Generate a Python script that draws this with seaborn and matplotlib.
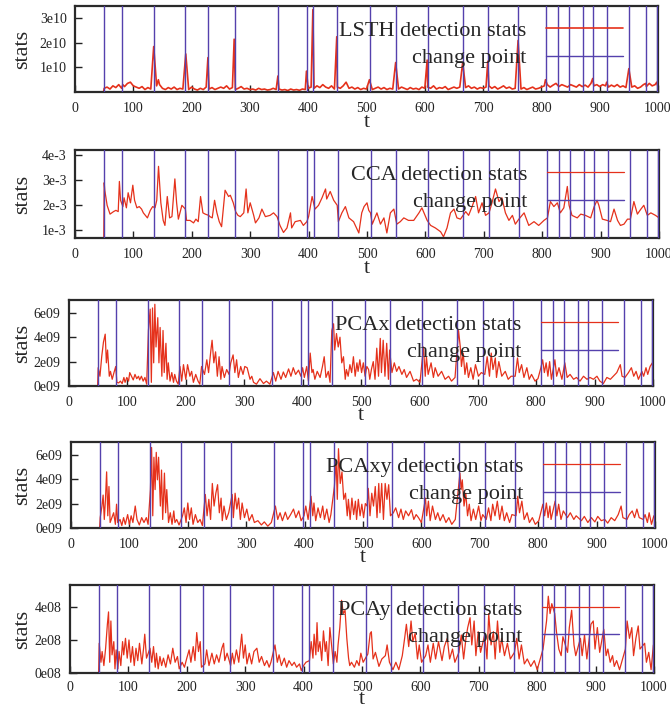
import numpy as np
import pandas as pd
import matplotlib
matplotlib.use("Agg")
import matplotlib.pyplot as plt
import seaborn as sns

sns.set_style("ticks")
plt.rcParams["font.family"] = ["Liberation Serif", "DejaVu Serif"]

# ---------------- data ----------------
change_points = [50, 81, 135, 189, 228, 274, 348, 398, 409, 450, 506, 550, 605,
                 665, 709, 760, 808, 828, 848, 872, 888, 912, 950, 979, 998]

x_ticks = [0, 100, 200, 300, 400, 500, 600, 700, 800, 900, 1000]
x_tick_labels = ["0", "100", "200", "300", "400", "500", "600", "700", "800", "900", "1000"]

# LSTH (units of 1e10): baseline every 5 steps from t=50, plus spikes
lsth_base_t = list(range(50, 1001, 5))
lsth_base_v = [
    0.15, 0.2, 0.12, 0.25, 0.18, 0.3, 0.15, 0.22, 0.35, 0.4, 0.25,
    0.2, 0.15, 0.22, 0.1, 0.18, 0.12,
    0.2, 0.25, 0.3, 0.15, 0.1, 0.18, 0.12, 0.2, 0.1, 0.15, 0.12,
    0.15, 0.1, 0.2, 0.12, 0.08, 0.15, 0.1, 0.2, 0.12, 0.18, 0.1, 0.15,
    0.2, 0.15, 0.25, 0.12, 0.18, 0.1, 0.15, 0.22, 0.12, 0.15, 0.1,
    0.12, 0.08, 0.15, 0.1, 0.12, 0.08, 0.1, 0.15, 0.1, 0.12,
    0.08, 0.1, 0.06, 0.12, 0.08, 0.1, 0.07, 0.12, 0.1, 0.15,
    0.2, 0.15, 0.25, 0.18, 0.3, 0.2, 0.15, 0.25, 0.12, 0.2,
    0.15, 0.25, 0.3, 0.15, 0.2, 0.12, 0.18, 0.1, 0.15, 0.12,
    0.18, 0.1, 0.15, 0.2, 0.12, 0.18, 0.1, 0.15, 0.12, 0.18,
    0.12, 0.2, 0.15, 0.1, 0.18, 0.12, 0.15, 0.1, 0.2, 0.15,
    0.2, 0.15, 0.25, 0.12, 0.18, 0.15, 0.22, 0.1, 0.15, 0.2,
    0.15, 0.2, 0.12, 0.18, 0.25, 0.15, 0.2, 0.12, 0.18, 0.15,
    0.2, 0.25, 0.15, 0.22, 0.12, 0.18, 0.25, 0.15, 0.2, 0.12,
    0.15, 0.2, 0.12, 0.18, 0.1, 0.15, 0.2, 0.12, 0.15, 0.2,
    0.25, 0.3, 0.2, 0.28, 0.35, 0.22, 0.3, 0.25, 0.2, 0.3,
    0.25, 0.2, 0.3, 0.22, 0.28, 0.2, 0.35, 0.25, 0.3, 0.22,
    0.3, 0.25, 0.2, 0.28, 0.22, 0.3, 0.2, 0.25, 0.18, 0.22,
    0.2, 0.25, 0.15, 0.2, 0.3, 0.22, 0.35, 0.25, 0.3, 0.2,
]
lsth_spikes = [(82, 0.3), (135, 1.85), (143, 0.5), (190, 1.55), (228, 1.4), (273, 2.15),
               (348, 0.65), (397, 0.85), (408, 3.35), (449, 2.25), (465, 0.4), (505, 0.5),
               (550, 1.2), (604, 1.3), (665, 1.2), (708, 1.25), (760, 2.1), (807, 0.5),
               (888, 0.55), (912, 0.4), (950, 0.95), (979, 0.35), (998, 0.4)]
lsth_start = [(0, 0.0), (49, 0.0)]

# CCA (units of 1e-3)
cca_points = [
    (0, 0), (49, 0), (50, 2.9), (51, 2.6), (55, 2.0), (60, 1.65), (66, 1.75), (70, 1.8),
    (74, 1.75), (76, 2.95), (78, 2.2), (82, 1.95), (84, 2.3), (88, 1.9), (91, 2.5),
    (95, 2.1), (99, 2.8), (102, 2.2), (106, 1.9), (110, 1.95), (114, 1.85), (117, 1.7),
    (124, 1.5), (129, 1.8), (133, 1.95), (137, 1.9), (140, 2.2), (143, 3.55), (147, 2.1),
    (151, 1.4), (154, 1.2), (158, 2.35), (162, 1.5), (166, 1.55), (171, 3.05), (174, 2.1),
    (177, 1.45), (183, 2.0), (189, 1.85), (191, 1.4), (197, 1.4), (203, 1.3), (207, 1.45),
    (211, 1.35), (215, 2.35), (219, 1.7), (223, 1.65), (229, 1.6), (231, 1.55), (235, 1.5),
    (239, 2.2), (243, 1.7), (247, 1.35), (251, 1.15), (257, 2.6), (263, 2.35), (266, 2.4),
    (271, 2.1), (275, 1.75), (279, 1.6), (283, 1.55), (289, 1.7), (293, 2.65), (296, 1.7),
    (300, 2.1), (306, 1.6), (309, 1.3), (315, 1.5), (320, 1.85), (326, 1.55), (334, 1.6),
    (340, 1.7), (346, 1.55), (351, 1.2), (357, 0.92), (363, 1.1), (369, 1.7), (371, 1.1),
    (377, 1.35), (386, 1.4), (391, 1.2), (397, 1.35), (400, 1.55), (406, 2.35), (411, 1.85),
    (417, 2.0), (423, 2.3), (429, 2.65), (431, 2.25), (437, 2.55), (443, 2.2), (449, 2.0),
    (451, 1.35), (457, 1.7), (463, 1.95), (469, 1.5), (477, 1.35), (486, 0.9), (491, 1.7),
    (495, 1.95), (500, 2.1), (503, 1.8), (506, 1.7), (509, 1.25), (517, 1.7), (523, 1.25),
    (529, 1.5), (534, 0.9), (540, 1.7), (546, 1.85), (551, 1.25), (557, 1.35), (563, 1.5),
    (571, 1.4), (580, 1.4), (589, 1.7), (594, 1.9), (603, 1.4), (609, 1.2), (617, 1.1),
    (626, 0.95), (631, 0.75), (637, 1.1), (643, 1.7), (649, 1.85), (654, 1.5), (660, 1.45),
    (669, 1.75), (674, 1.6), (680, 1.95), (686, 2.35), (691, 1.7), (697, 2.1), (703, 1.6),
    (709, 1.7), (714, 2.1), (720, 2.65), (726, 2.15), (731, 2.3), (737, 1.7), (743, 1.4),
    (749, 1.6), (754, 1.25), (760, 1.45), (769, 1.7), (777, 1.2), (786, 1.35), (794, 1.2),
    (803, 1.4), (809, 1.5), (814, 2.15), (820, 1.95), (826, 2.1), (831, 1.7), (837, 1.9),
    (843, 2.75), (846, 2.0), (851, 1.6), (860, 1.5), (866, 1.65), (874, 1.6), (883, 1.5),
    (889, 1.95), (894, 2.2), (897, 2.0), (903, 1.45), (911, 1.4), (917, 1.35), (923, 1.85),
    (929, 1.4), (934, 1.2), (940, 1.25), (946, 1.45), (951, 1.45), (957, 2.15), (963, 1.65),
    (969, 1.85), (974, 2.0), (980, 1.6), (986, 1.7), (994, 1.6), (1000, 1.5),
]

# PCAx (units of 1e9)
pcax_points = [
    (0, 0), (49, 0), (50, 1.5), (53, 0.8), (56, 2.4), (59, 3.6), (62, 4.25), (64, 1.9), (66, 2.95),
    (69, 0.8), (71, 1.2), (74, 0.55), (77, 1.1), (80, 1.6), (82, 0.3), (85, 0.25), (88, 0.4),
    (91, 0.2), (94, 0.7), (96, 0.3), (99, 0.7), (102, 0.4), (104, 1.1), (107, 0.8), (110, 0.5),
    (113, 0.95), (116, 0.6), (119, 0.8), (121, 0.5), (124, 0.8), (127, 0.4), (130, 0.7),
    (133, 0.15), (136, 4.55), (139, 6.3), (141, 0.3), (143, 6.4), (145, 1.9), (147, 6.7),
    (149, 3.2), (152, 5.6), (154, 1.9), (156, 4.8), (159, 0.8), (161, 4.55), (163, 1.1),
    (166, 3.5), (168, 0.55), (170, 1.9), (173, 0.4), (176, 1.1), (179, 0.3), (181, 0.95),
    (184, 0.4), (187, 0.15), (190, 1.6), (193, 0.4), (196, 1.75), (200, 0.55), (203, 1.75),
    (207, 0.8), (210, 1.2), (213, 0.3), (217, 0.95), (221, 0.4), (224, 0.15), (227, 1.6),
    (232, 0.95), (236, 2.15), (239, 1.1), (243, 2.95), (245, 3.75), (248, 1.9), (251, 2.8),
    (254, 0.8), (257, 2.4), (260, 0.55), (262, 1.6), (266, 0.7), (270, 1.35), (274, 0.95),
    (277, 1.9), (281, 2.55), (284, 1.1), (287, 2.15), (290, 0.7), (294, 1.6), (298, 0.95),
    (301, 1.6), (305, 1.5), (310, 0.55), (313, 0.8), (316, 0.3), (321, 0.15), (327, 0.6),
    (333, 0.2), (338, 0.4), (344, 0.15), (350, 1.1), (354, 0.4), (358, 1.2), (363, 0.55),
    (367, 1.15), (371, 0.7), (376, 1.4), (380, 0.8), (384, 1.5), (388, 0.95), (393, 1.3),
    (397, 0.8), (400, 1.5), (403, 0.7), (407, 1.6), (410, 0.4), (413, 2.7), (416, 1.1),
    (418, 1.35), (421, 0.55), (425, 1.2), (430, 0.7), (434, 1.6), (437, 2.4), (440, 0.7),
    (444, 1.2), (447, 0.3), (450, 4.55), (453, 5.1), (455, 2.95), (458, 4.3), (461, 3.2),
    (464, 4.0), (467, 1.9), (470, 2.4), (473, 0.55), (475, 1.35), (478, 0.8), (481, 1.75),
    (484, 1.1), (487, 2.4), (490, 0.8), (493, 1.9), (495, 1.2), (498, 2.15), (501, 1.1),
    (504, 1.9), (507, 0.8), (510, 1.6), (513, 1.35), (515, 0.55), (518, 1.4), (521, 2.0),
    (524, 0.55), (527, 3.1), (530, 0.8), (533, 3.9), (535, 1.1), (538, 3.75), (541, 0.8),
    (544, 3.5), (547, 0.55), (549, 2.95), (553, 1.1), (557, 1.9), (561, 1.2), (565, 1.6),
    (570, 0.95), (574, 1.35), (578, 0.7), (584, 1.2), (590, 0.4), (595, 0.55), (601, 0.3),
    (607, 3.2), (610, 0.8), (612, 2.4), (615, 0.95), (620, 1.9), (624, 0.7), (627, 1.5),
    (632, 0.8), (638, 1.2), (644, 0.55), (650, 0.8), (655, 0.4), (661, 0.7), (667, 4.55),
    (670, 3.2), (672, 1.6), (675, 2.7), (678, 0.95), (681, 1.9), (684, 0.7), (688, 1.5),
    (692, 0.55), (696, 1.75), (701, 0.8), (706, 1.1), (712, 0.95), (716, 2.4), (720, 0.8),
    (723, 2.7), (726, 1.35), (730, 2.3), (732, 0.7), (736, 2.0), (741, 0.8), (747, 1.2),
    (752, 0.55), (757, 0.8), (764, 0.8), (768, 2.3), (771, 1.1), (775, 1.75), (779, 0.7),
    (784, 1.5), (788, 0.55), (792, 0.95), (798, 0.4), (803, 0.6), (808, 1.5), (811, 2.15),
    (814, 1.1), (817, 1.9), (820, 0.8), (823, 2.0), (826, 0.55), (830, 1.6), (832, 2.15),
    (835, 0.8), (839, 1.5), (844, 0.55), (849, 1.9), (853, 0.7), (858, 0.95), (864, 0.55),
    (869, 0.7), (875, 0.4), (881, 0.8), (887, 0.55), (892, 0.7), (898, 0.55), (904, 0.8),
    (909, 0.4), (915, 0.2), (921, 0.7), (927, 0.55), (932, 0.8), (938, 1.1), (944, 1.75),
    (947, 0.8), (952, 0.7), (958, 1.1), (963, 1.5), (967, 0.8), (971, 1.2), (975, 0.55),
    (981, 1.2), (984, 0.8), (988, 1.5), (991, 0.95), (995, 1.6), (999, 1.9),
]

# PCAxy (units of 1e9)
pcaxy_points = [
    (0, 0), (49, 0), (50, 0.85), (53, 1.8), (55, 2.7), (57, 0.7), (59, 2.35), (61, 4.6), (63, 1.0),
    (65, 3.4), (67, 0.45), (70, 0.85), (73, 1.25), (76, 0.3), (78, 1.95), (80, 0.45), (84, 0.7),
    (87, 0.2), (90, 0.85), (93, 0.3), (97, 1.1), (100, 0.3), (103, 1.0), (106, 0.45), (110, 1.8),
    (113, 0.7), (117, 0.25), (121, 0.85), (125, 0.45), (129, 0.85), (132, 0.3), (136, 3.15),
    (138, 6.6), (140, 1.0), (142, 5.8), (144, 3.15), (146, 6.2), (148, 3.95), (150, 5.8),
    (153, 1.8), (155, 4.75), (157, 0.7), (160, 4.5), (162, 1.25), (164, 3.15), (167, 0.45),
    (170, 1.25), (173, 0.3), (176, 1.4), (178, 0.45), (181, 0.7), (185, 0.25), (191, 1.0),
    (194, 1.65), (197, 0.45), (200, 2.05), (203, 0.7), (206, 1.65), (209, 0.3), (213, 1.1),
    (217, 0.45), (221, 0.7), (225, 0.2), (230, 2.75), (233, 1.0), (236, 2.35), (239, 0.7),
    (242, 3.65), (245, 1.8), (248, 2.85), (251, 3.55), (254, 1.25), (257, 2.45), (259, 0.6),
    (262, 1.8), (266, 0.7), (270, 1.25), (276, 2.75), (278, 0.85), (281, 2.85), (284, 1.55),
    (287, 2.45), (290, 0.7), (293, 2.05), (297, 0.85), (301, 1.55), (305, 0.6), (310, 1.1),
    (314, 0.45), (320, 0.6), (326, 0.25), (331, 0.5), (337, 0.15), (343, 0.45), (350, 1.8),
    (354, 0.7), (358, 1.25), (362, 0.6), (367, 1.3), (371, 0.7), (376, 1.1), (381, 1.55),
    (385, 0.85), (390, 1.4), (394, 0.6), (399, 1.0), (402, 1.8), (406, 0.7), (411, 2.6),
    (414, 1.0), (416, 2.05), (419, 0.6), (423, 1.65), (427, 0.85), (431, 1.8), (434, 0.7),
    (438, 1.55), (442, 0.45), (445, 1.1), (451, 3.4), (454, 5.55), (456, 2.35), (458, 6.5),
    (461, 3.65), (464, 4.6), (467, 2.35), (470, 2.85), (473, 1.0), (475, 2.35), (478, 0.7),
    (481, 2.45), (484, 1.1), (487, 2.2), (489, 0.7), (492, 2.35), (495, 1.0), (498, 1.95),
    (501, 0.85), (504, 2.0), (507, 1.8), (509, 3.25), (512, 1.0), (515, 2.85), (518, 1.8),
    (521, 3.4), (524, 0.85), (527, 3.65), (529, 1.25), (532, 3.65), (535, 0.7), (538, 3.65),
    (541, 2.35), (544, 3.55), (547, 1.0), (552, 1.25), (556, 1.65), (561, 0.85), (565, 1.55),
    (569, 0.7), (573, 1.4), (578, 1.0), (583, 1.5), (587, 0.7), (591, 1.1), (595, 0.85),
    (600, 0.45), (607, 2.45), (609, 1.0), (612, 2.2), (615, 0.6), (619, 1.8), (624, 0.7),
    (628, 1.25), (632, 0.6), (637, 1.1), (642, 0.45), (647, 0.85), (652, 0.3), (658, 0.7),
    (666, 4.5), (668, 3.15), (670, 3.95), (673, 1.8), (676, 2.85), (679, 1.0), (682, 1.95),
    (685, 0.6), (689, 1.55), (693, 0.7), (698, 1.8), (702, 0.6), (705, 1.1), (711, 0.7),
    (715, 1.65), (719, 0.6), (722, 1.95), (726, 1.0), (730, 2.2), (734, 0.7), (738, 1.8),
    (742, 0.6), (746, 1.25), (751, 0.45), (755, 1.1), (762, 1.0), (765, 2.6), (768, 1.25),
    (772, 2.2), (776, 0.7), (781, 1.25), (785, 0.45), (790, 0.85), (795, 0.3), (801, 0.6),
    (808, 1.95), (811, 1.0), (814, 2.05), (817, 0.85), (820, 1.8), (822, 0.7), (829, 2.2),
    (832, 1.0), (835, 1.95), (839, 0.7), (843, 1.4), (850, 0.85), (855, 1.25), (861, 0.7),
    (865, 1.0), (874, 0.6), (879, 0.95), (885, 0.45), (891, 0.85), (897, 0.5), (902, 0.95),
    (908, 0.6), (914, 0.7), (919, 0.4), (925, 0.85), (931, 0.6), (937, 1.1), (942, 1.8),
    (945, 0.85), (952, 0.7), (956, 1.1), (961, 1.4), (965, 0.85), (969, 1.55), (973, 0.85),
    (980, 0.7), (983, 1.1), (987, 0.45), (990, 1.25), (994, 0.3), (998, 1.0),
]

# PCAy (units of 1e8)
pcay_points = [
    (0, 0), (49, 0), (50, 1.8), (53, 0.65), (55, 1.3), (58, 0.45), (61, 1.5), (64, 2.95), (66, 3.7),
    (68, 0.65), (70, 3.15), (72, 1.1), (75, 1.9), (77, 0.25), (79, 1.4), (82, 0.25), (84, 1.3),
    (87, 0.45), (90, 1.9), (92, 1.1), (95, 2.1), (98, 0.9), (101, 2.0), (104, 0.65), (107, 1.6),
    (110, 0.45), (113, 1.5), (116, 0.75), (119, 1.8), (123, 0.55), (126, 1.5), (128, 2.35),
    (131, 0.9), (137, 1.5), (140, 0.65), (143, 1.6), (146, 0.35), (148, 1.2), (151, 0.25),
    (154, 1.0), (157, 0.45), (160, 0.9), (164, 0.35), (168, 1.1), (172, 0.55), (176, 1.5),
    (180, 0.65), (184, 1.0), (187, 0.25), (192, 0.65), (196, 0.35), (200, 0.9), (204, 1.4),
    (207, 0.65), (211, 1.6), (214, 0.75), (217, 2.45), (220, 1.3), (223, 1.9), (225, 0.35),
    (231, 0.55), (234, 1.4), (238, 0.45), (243, 1.2), (247, 0.55), (251, 1.1), (255, 0.65),
    (260, 1.5), (263, 1.8), (265, 0.75), (269, 1.2), (275, 0.45), (278, 1.2), (281, 0.55),
    (285, 1.4), (289, 0.65), (294, 2.35), (297, 0.9), (300, 1.7), (303, 0.55), (307, 1.2),
    (311, 0.55), (315, 1.3), (320, 1.5), (324, 0.65), (328, 1.0), (333, 0.45), (337, 0.75),
    (341, 0.35), (344, 0.65), (351, 1.7), (355, 0.65), (358, 1.1), (362, 0.45), (367, 0.9),
    (371, 0.35), (375, 0.75), (380, 0.45), (384, 0.65), (388, 0.35), (393, 0.55), (396, 0.15),
    (400, 0.45), (404, 0.65), (410, 0.75), (413, 1.9), (416, 0.9), (418, 2.35), (421, 1.1),
    (423, 3.05), (425, 1.3), (428, 1.9), (431, 0.75), (434, 2.55), (437, 1.3), (439, 1.9),
    (442, 0.45), (445, 2.75), (451, 0.55), (454, 1.3), (457, 0.65), (459, 1.7), (462, 2.75),
    (465, 4.4), (468, 3.6), (471, 3.8), (474, 2.1), (477, 0.9), (479, 0.45), (482, 0.65),
    (487, 0.35), (491, 0.75), (495, 0.45), (498, 1.2), (502, 0.65), (506, 0.9), (510, 1.15),
    (514, 2.4), (516, 2.5), (519, 0.85), (523, 1.25), (529, 0.4), (534, 0.85), (540, 1.05),
    (543, 1.7), (547, 0.65), (553, 0.2), (558, 0.65), (563, 0.2), (569, 1.05), (573, 2.1),
    (576, 2.95), (580, 1.6), (584, 3.15), (587, 1.9), (591, 2.4), (595, 0.85), (598, 1.7),
    (602, 0.65), (609, 1.05), (613, 1.7), (617, 0.65), (622, 1.8), (626, 0.85), (631, 1.9),
    (637, 0.75), (641, 1.6), (646, 2.1), (650, 0.85), (655, 1.45), (659, 0.65), (666, 1.25),
    (670, 2.3), (674, 0.85), (678, 2.1), (681, 2.75), (685, 3.35), (688, 1.7), (692, 3.15),
    (695, 1.05), (699, 2.5), (703, 1.25), (710, 2.3), (714, 0.85), (717, 3.6), (721, 1.7),
    (725, 2.5), (728, 0.85), (732, 3.15), (736, 1.25), (739, 2.1), (744, 1.05), (749, 1.8),
    (754, 0.85), (761, 1.25), (765, 2.1), (769, 0.85), (773, 1.7), (778, 0.55), (783, 0.85),
    (789, 0.4), (795, 0.75), (800, 0.2), (810, 1.45), (813, 2.3), (816, 3.15), (819, 4.65),
    (822, 3.6), (825, 4.2), (830, 3.6), (833, 2.5), (837, 1.45), (841, 1.05), (844, 2.2),
    (852, 1.25), (855, 2.75), (859, 3.8), (863, 1.7), (866, 1.05), (874, 2.1), (877, 1.05),
    (881, 2.3), (885, 0.85), (892, 2.95), (896, 3.15), (899, 1.45), (903, 2.75), (907, 1.25),
    (914, 2.65), (918, 1.05), (921, 1.45), (925, 0.65), (929, 1.05), (932, 0.4), (936, 0.75),
    (941, 0.2), (951, 1.45), (954, 3.15), (958, 2.1), (962, 2.75), (965, 1.05), (969, 2.1),
    (973, 2.85), (976, 1.45), (984, 1.8), (987, 0.65), (991, 1.25), (995, 0.2), (999, 1.7),
]

series_names = ["LSTH", "CCA", "PCAx", "PCAxy", "PCAy"]
series_scale = [1e10, 1e-3, 1e9, 1e9, 1e8]
y_limits = [(0, 3.5e10), (0.7e-3, 4.2e-3), (0, 7.05e9), (0, 7.05e9), (0, 5.33e8)]
y_ticks = [[1e10, 2e10, 3e10],
           [1e-3, 2e-3, 3e-3, 4e-3],
           [0, 2e9, 4e9, 6e9],
           [0, 2e9, 4e9, 6e9],
           [0, 2e8, 4e8]]
y_tick_labels = [["1e10", "2e10", "3e10"],
                 ["1e-3", "2e-3", "3e-3", "4e-3"],
                 ["0e09", "2e09", "4e09", "6e09"],
                 ["0e09", "2e09", "4e09", "6e09"],
                 ["0e08", "2e08", "4e08"]]

# ---------------- build tables ----------------
lsth_dict = dict(lsth_start)
lsth_dict.update(dict(zip(lsth_base_t, lsth_base_v)))
lsth_dict.update(dict(lsth_spikes))
lsth_points = sorted(lsth_dict.items())

all_points = [lsth_points, cca_points, pcax_points, pcaxy_points, pcay_points]
frames = []
for pts, sc in zip(all_points, series_scale):
    arr = np.array(pts, dtype=float)
    frames.append(pd.DataFrame({"t": arr[:, 0], "v": arr[:, 1] * sc}))

# ---------------- layout (pixel boxes: left, right, top, bottom) ----------------
W, H = 670, 708
boxes = [(75, 658, 6, 92), (75, 659, 150, 238), (69, 653, 300, 386),
         (71, 655, 442, 528), (70, 654, 585, 673)]
xlabel_offsets = [21.0, 21.0, 20.0, 20.0, 17.0]

RED = "#e5311b"
BLUE = "#5441ad"

fig = plt.figure(figsize=(W / 100, H / 100), dpi=100)
for i, (name, df) in enumerate(zip(series_names, frames)):
    l, r, t, b = boxes[i]
    hgt = b - t
    ax = fig.add_axes([l / W, 1 - b / H, (r - l) / W, hgt / H])
    sns.lineplot(data=df, x="t", y="v", ax=ax, color=RED, linewidth=1.2 if i == 0 else 0.9,
                 estimator=None, label=f"{name} detection stats", zorder=2)
    for j, cp in enumerate(change_points):
        ax.axvline(cp, color=BLUE, linewidth=1.0, zorder=3,
                   label="change point" if j == 0 else "_nolegend_")
    ax.set_xlim(0, 1000)
    ax.set_ylim(*y_limits[i])
    ax.set_xticks(x_ticks)
    ax.set_xticklabels(x_tick_labels)
    ax.set_yticks(y_ticks[i])
    ax.set_yticklabels(y_tick_labels[i])
    ax.tick_params(axis="x", pad=7 if i < 4 else 6)
    ax.tick_params(axis="y", pad=6)
    ax.tick_params(direction="in", length=5, width=1, labelsize=10,
                   top=False, right=False, colors="#222222", labelcolor="#222222")
    for sp in ax.spines.values():
        sp.set_visible(True)
        sp.set_linewidth(1.6)
        sp.set_color("#2a2a2a")
    ax.set_xlabel("t", fontsize=16)
    ax.set_ylabel("stats", fontsize=16)
    ax.xaxis.set_label_coords(0.5, -xlabel_offsets[i] / hgt)
    ax.yaxis.set_label_coords((32 - l) / (r - l), 0.5)
    ax.legend(loc="upper right", bbox_to_anchor=(0.94, 1 - 14.5 / hgt), frameon=False,
              markerfirst=False, fontsize=16, handlelength=3.45, handletextpad=0.9,
              labelspacing=0.3, borderpad=0.0, borderaxespad=0.0)

fig.savefig("out.png", dpi=100)
